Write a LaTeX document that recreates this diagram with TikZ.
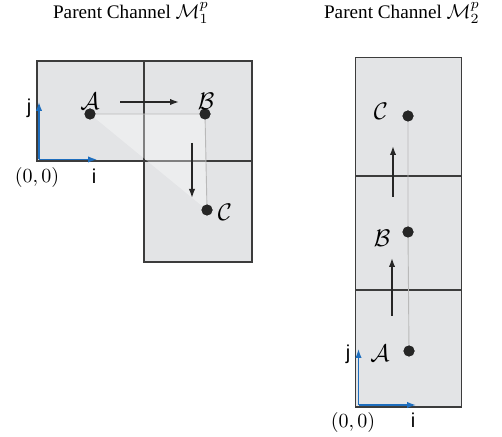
\documentclass[tikz,border=0pt]{standalone}
\usepackage{fontspec}
\setmainfont{Liberation Serif}
\setsansfont{Liberation Sans}
\usetikzlibrary{arrows.meta}
\definecolor{cellfill}{RGB}{227,228,230}
\definecolor{cellline}{RGB}{60,60,60}
\definecolor{axisblue}{RGB}{30,110,190}
\definecolor{pathgray}{RGB}{185,185,185}
\tikzset{
  cell/.style={draw=cellline, fill=cellfill, line width=0.6pt},
  dot/.style={circle, fill=black!85, inner sep=0pt, minimum size=5.5pt},
  lbl/.style={inner sep=0pt, font=\large},
  origin/.style={inner sep=0pt, font=\normalsize},
  axlbl/.style={inner sep=0pt, font=\sffamily\normalsize},
  moveto/.style={-{Latex[length=4.5pt,width=3.2pt]}, line width=0.75pt, black!85},
  axis/.style={-{Latex[length=4.5pt,width=3.2pt]}, line width=0.7pt, axisblue},
  trail/.style={draw=pathgray, line width=0.45pt},
  title/.style={inner sep=0pt, font=\fontsize{9.6}{11}\selectfont}
}
\begin{document}
\begin{tikzpicture}[x=0.5pt, y=-0.5pt]
\useasboundingbox (0,0) rectangle (502,437);
% titles
\node[title] (t1) at (131,13) {Parent Channel $\mathcal{M}_1^p$};
\node[title] (t2) at (402,13) {Parent Channel $\mathcal{M}_2^p$};
% ---------- left figure ----------
\draw[cell] (37,61) rectangle (144,161);
\draw[cell] (144,61) rectangle (252,161);
\draw[cell] (144,161) rectangle (252,262);
\node[dot] (lA) at (90,114) {};
\node[dot] (lB) at (205,114) {};
\node[dot] (lC) at (207,210) {};
\fill[white, opacity=0.35] (lA.center) -- (lB.center) -- (lC.center) -- cycle;
\draw[trail] (lA) -- (lB) -- (lC);
\node[dot] at (lA) {};
\node[dot] at (lB) {};
\node[dot] at (lC) {};
\node[lbl] (lAl) at (90,101) {$\mathcal{A}$};
\node[lbl] (lBl) at (206,101) {$\mathcal{B}$};
\node[lbl] (lCl) at (225,212) {$\mathcal{C}$};
\coordinate (r1s) at (120,102);
\coordinate (r1e) at (179,102);
\draw[moveto] (r1s) -- (r1e);
\coordinate (d1s) at (192,143);
\coordinate (d1e) at (192,198);
\draw[moveto] (d1s) -- (d1e);
\coordinate (lo) at (39,159.5);
\coordinate (lj) at (39,102);
\coordinate (li) at (97,159.5);
\draw[axis] (lo) -- (lj);
\draw[axis] (lo) -- (li);
\node[axlbl] (ljl) at (29,108) {j};
\node[axlbl] (lil) at (94,176) {i};
\node[origin] (lol) at (37,178) {$(0,0)$};
% ---------- right figure ----------
\draw[cell] (355.5,57.5) rectangle (461.5,176);
\draw[cell] (355.5,176) rectangle (461.5,290);
\draw[cell] (355.5,290) rectangle (461.5,407);
\node[dot] (rC) at (408,116) {};
\node[dot] (rB) at (408,232) {};
\node[dot] (rA) at (409,351) {};
\draw[trail] (rA) -- (rB) -- (rC);
\node[dot] at (rA) {};
\node[dot] at (rB) {};
\node[dot] at (rC) {};
\node[lbl] (rCl) at (381,111) {$\mathcal{C}$};
\node[lbl] (rBl) at (382,238) {$\mathcal{B}$};
\node[lbl] (rAl) at (380,353) {$\mathcal{A}$};
\coordinate (u1s) at (393,197);
\coordinate (u1e) at (393,146);
\draw[moveto] (u1s) -- (u1e);
\coordinate (u2s) at (392,316);
\coordinate (u2e) at (392,258);
\draw[moveto] (u2s) -- (u2e);
\coordinate (ro) at (358.5,405);
\coordinate (rj) at (358.5,349);
\coordinate (ri) at (416,405);
\draw[axis] (ro) -- (rj);
\draw[axis] (ro) -- (ri);
\node[axlbl] (rjl) at (348,354) {j};
\node[axlbl] (ril) at (413,420) {i};
\node[origin] (rol) at (353,422) {$(0,0)$};
\end{tikzpicture}
\end{document}
